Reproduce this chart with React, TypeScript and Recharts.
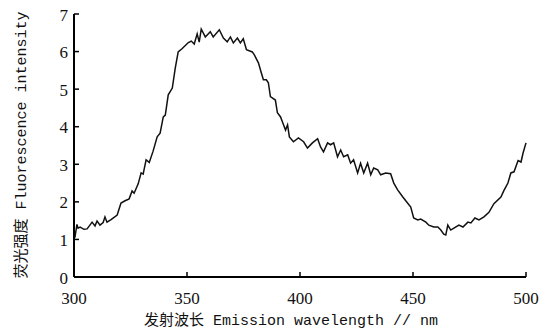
import { LineChart, Line, XAxis, YAxis } from 'recharts'

// emission spectrum (nm, a.u.)
const wavelength = [
  300.4, 301.3, 301.8, 302.7, 304.4, 305.8, 308.0, 309.3, 310.2, 311.5,
  312.9, 313.7, 314.6, 316.4, 319.1, 320.8, 322.6, 324.4, 325.7, 326.6,
  328.4, 329.7, 330.6, 331.9, 333.3, 335.0, 336.8, 338.1, 339.5, 340.4,
  341.7, 343.5, 344.8, 346.1, 347.9, 350.6, 351.9, 353.2, 354.5, 355.4,
  356.3, 358.1, 360.3, 361.6, 364.3, 366.1, 367.8, 369.2, 370.5, 372.3,
  373.6, 374.9, 376.3, 378.9, 379.8, 381.6, 382.9, 383.8, 385.1, 386.0,
  386.9, 389.1, 390.0, 391.4, 392.7, 393.6, 394.5, 395.3, 397.1, 399.3,
  401.6, 403.3, 405.5, 407.8, 409.1, 410.4, 412.2, 413.5, 414.9, 416.6,
  418.0, 419.3, 421.1, 422.4, 423.7, 425.5, 426.8, 428.2, 429.9, 431.3,
  432.6, 434.4, 435.7, 437.9, 440.1, 441.5, 443.2, 445.5, 446.8, 449.0,
  450.3, 452.1, 453.4, 455.7, 457.0, 459.2, 461.0, 462.3, 463.6, 464.5,
  465.4, 466.7, 468.1, 470.3, 472.1, 474.3, 475.6, 477.4, 479.2, 481.4,
  483.6, 485.8, 488.9, 490.2, 492.0, 493.3, 494.7, 496.5, 497.8, 498.7,
  500.0,
]
const intensity = [
  1.05, 1.4, 1.3, 1.33, 1.27, 1.28, 1.46, 1.36, 1.49, 1.38,
  1.45, 1.6, 1.46, 1.53, 1.65, 1.97, 2.03, 2.08, 2.29, 2.23,
  2.48, 2.77, 2.74, 3.12, 3.05, 3.35, 3.73, 3.83, 4.26, 4.31,
  4.85, 5.03, 5.56, 5.99, 6.08, 6.24, 6.28, 6.2, 6.47, 6.25,
  6.6, 6.39, 6.53, 6.39, 6.58, 6.36, 6.26, 6.39, 6.23, 6.36,
  6.23, 6.34, 6.05, 5.99, 5.91, 5.7, 5.43, 5.25, 5.25, 5.17,
  4.8, 4.71, 4.37, 4.26, 4.05, 3.91, 4.05, 3.73, 3.6, 3.7,
  3.6, 3.43, 3.57, 3.68, 3.46, 3.33, 3.57, 3.52, 3.57, 3.2,
  3.38, 3.2, 3.25, 3.03, 3.12, 2.77, 3.03, 2.77, 3.03, 2.72,
  2.9, 2.85, 2.72, 2.77, 2.75, 2.5, 2.32, 2.13, 2.03, 1.86,
  1.57, 1.52, 1.54, 1.46, 1.38, 1.33, 1.33, 1.25, 1.14, 1.12,
  1.38, 1.25, 1.3, 1.38, 1.33, 1.46, 1.44, 1.57, 1.52, 1.6,
  1.72, 1.95, 2.13, 2.3, 2.5, 2.77, 2.8, 3.1, 3.06, 3.3,
  3.57,
]

const xTicks = [300, 350, 400, 450, 500]
const yTicks = [0, 1, 2, 3, 4, 5, 6, 7]
const xTitle = '发射波长 Emission wavelength // nm'
const yTitle = '荧光强度 Fluorescence intensity'

const data = wavelength.map((w, i) => ({ w, v: intensity[i] }))

const TICK_FONT = '"Liberation Serif", "Times New Roman", serif'
const TITLE_FONT = '"Liberation Mono", "Noto Sans CJK SC", monospace'

// ticks point into the plot, so draw them with the label
function XTick({ x, y, payload }: any) {
  return (
    <g>
      {payload.value !== xTicks[0] && (
        <line x1={x} x2={x} y1={y} y2={y - 5} stroke="#000" strokeWidth={1.5} />
      )}
      <text x={x} y={y + 21} textAnchor="middle" dominantBaseline="central"
        fontFamily={TICK_FONT} fontSize={17} fill="#111">
        {payload.value}
      </text>
    </g>
  )
}

function YTick({ x, y, payload }: any) {
  return (
    <g>
      {payload.value !== yTicks[0] && (
        <line x1={x} x2={x + 5} y1={y} y2={y} stroke="#000" strokeWidth={1.5} />
      )}
      <text x={x - 6} y={y + 1} textAnchor="end" dominantBaseline="central"
        fontFamily={TICK_FONT} fontSize={17} fill="#111">
        {payload.value}
      </text>
    </g>
  )
}

export default function App() {
  return (
    <div style={{ position: 'absolute', left: 0, top: 0, background: '#fff' }}>
      <LineChart width={546} height={331} data={data}
        margin={{ top: 14, right: 20, bottom: 0, left: 0 }}>
        <XAxis
          type="number"
          dataKey="w"
          domain={[300, 500]}
          ticks={xTicks}
          height={54}
          tickSize={0}
          tickMargin={0}
          tick={<XTick />}
          axisLine={{ stroke: '#000', strokeWidth: 2 }}
          tickLine={false}
          interval={0}
          label={{
            value: xTitle,
            content: () => (
              <text x={291} y={321} textAnchor="middle" dominantBaseline="central"
                fontFamily={TITLE_FONT} fontSize={15} fill="#111">
                {xTitle}
              </text>
            ),
          }}
        />
        <YAxis
          type="number"
          domain={[0, 7]}
          ticks={yTicks}
          width={74}
          tickSize={0}
          tickMargin={0}
          tick={<YTick />}
          axisLine={{ stroke: '#000', strokeWidth: 2 }}
          tickLine={false}
          interval={0}
          label={{
            value: yTitle,
            content: () => (
              <text x={22} y={145} transform="rotate(-90 22 145)" textAnchor="middle"
                dominantBaseline="central" fontFamily={TITLE_FONT} fontSize={15} fill="#111">
                {yTitle}
              </text>
            ),
          }}
        />
        <Line
          type="linear"
          dataKey="v"
          stroke="#111"
          strokeWidth={1.5}
          dot={false}
          isAnimationActive={false}
        />
      </LineChart>
    </div>
  )
}
